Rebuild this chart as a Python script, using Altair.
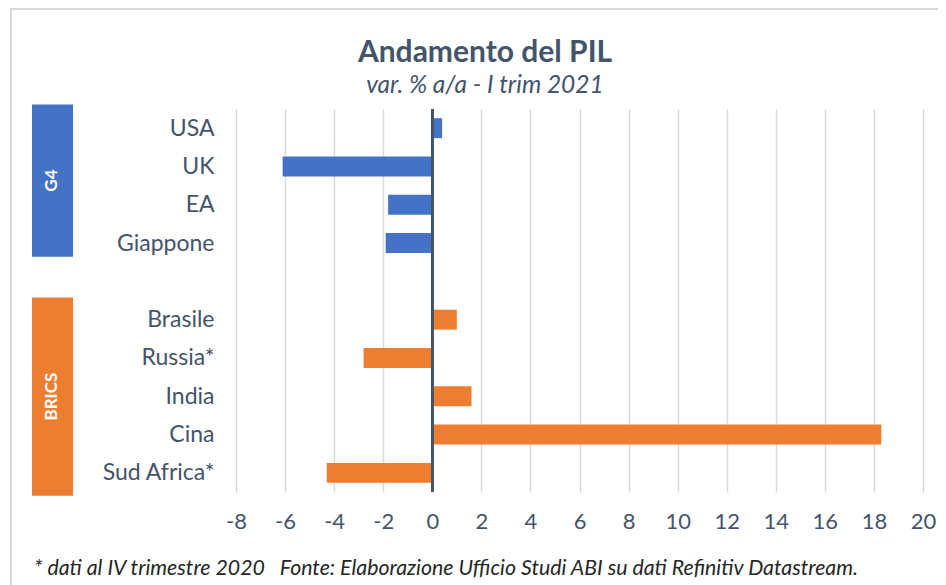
import altair as alt
import pandas as pd

# ---- data ----
countries = ["USA", "UK", "EA", "Giappone", "Brasile", "Russia*", "India", "Cina", "Sud Africa*"]
values = [0.4, -6.1, -1.8, -1.9, 1.0, -2.8, 1.6, 18.3, -4.3]
groups = ["G4", "G4", "G4", "G4", "BRICS", "BRICS", "BRICS", "BRICS", "BRICS"]
group_names = ["G4", "BRICS"]
group_colors = ["#4472C4", "#ED7D31"]
x_ticks = list(range(-8, 21, 2))

title_text = "Andamento del PIL"
subtitle_text = "var. % a/a - I trim 2021"
footnote_text = "* dati al IV trimestre 2020\u00a0\u00a0\u00a0Fonte: Elaborazione Ufficio Studi ABI su dati Refinitiv Datastream."

FONT = "Lato"
TXT = "#44546A"

# row positions: one empty slot between the groups
idx = []
pos = 0
prev = None
for g in groups:
    if prev is not None and g != prev:
        pos += 1
    idx.append(pos)
    pos += 1
    prev = g
n_slots = pos

df = pd.DataFrame({"country": countries, "value": values, "group": groups, "idx": idx})
df["y0"] = df["idx"] - 0.26
df["y1"] = df["idx"] + 0.26
df["zero"] = 0.0

label_arr = [""] * n_slots
for c, i in zip(countries, idx):
    label_arr[i] = c
label_expr = "[" + ",".join("'" + s + "'" for s in label_arr) + "][datum.value]"

top_pad = {"G4": 0.62, "BRICS": 0.58}
bottom_pad = {"G4": 0.36, "BRICS": 0.6}
gdf = pd.DataFrame({
    "group": group_names,
    "top": [df[df.group == g].idx.min() - top_pad[g] for g in group_names],
    "bottom": [df[df.group == g].idx.max() + bottom_pad[g] for g in group_names],
})
gdf["mid"] = (gdf["top"] + gdf["bottom"]) / 2

W, H = 687, 383
yscale = alt.Scale(domain=[-0.5, n_slots - 0.5], reverse=True, nice=False, zero=False)
xscale = alt.Scale(domain=[-8, 20], nice=False)
color_scale = alt.Scale(domain=group_names, range=group_colors)

base = alt.Chart(df)

bars = base.mark_rect().encode(
    x=alt.X("value:Q", scale=xscale,
            axis=alt.Axis(values=x_ticks, labelExpr="'' + datum.value", title=None,
                          grid=True, gridColor="#D9D9D9", gridWidth=1.5, domain=False,
                          ticks=False, labelFlush=False, labelPadding=19, labelFontSize=22,
                          labelColor=TXT, labelFont=FONT)),
    x2="zero:Q",
    y=alt.Y("y0:Q", scale=yscale,
            axis=alt.Axis(values=idx, labelExpr=label_expr, title=None, grid=False,
                          domain=False, ticks=False, labelFlush=False, labelPadding=22,
                          labelFontSize=23, labelColor=TXT, labelFont=FONT)),
    y2="y1:Q",
    color=alt.Color("group:N", scale=color_scale, legend=None),
)

zero_rule = base.mark_rule(color="#44546A", strokeWidth=2).encode(x=alt.datum(0))

grects = alt.Chart(gdf).mark_rect().encode(
    x=alt.value(-204), x2=alt.value(-163),
    y=alt.Y("top:Q", scale=yscale), y2="bottom:Q",
    color=alt.Color("group:N", scale=color_scale, legend=None),
)
gtext = alt.Chart(gdf).mark_text(angle=270, align="center", baseline="middle",
                                 font=FONT, fontSize=17, fontWeight="bold",
                                 color="white").encode(
    x=alt.value(-184), y=alt.Y("mid:Q", scale=yscale), text="group:N")

one = pd.DataFrame({"a": [0]})
border = alt.Chart(one).mark_rect(fill=None, stroke="#D9D9D9", strokeWidth=2).encode(
    x=alt.value(-225), x2=alt.value(W + 40), y=alt.value(-100), y2=alt.value(H + 120))

title = alt.Chart(one).mark_text(align="center", baseline="alphabetic", font=FONT,
                                 fontSize=30, fontWeight="bold", color=TXT).encode(
    x=alt.value(249), y=alt.value(-47), text=alt.value(title_text))
subtitle = alt.Chart(one).mark_text(align="center", baseline="alphabetic", font=FONT,
                                    fontSize=24.5, fontStyle="italic", color=TXT).encode(
    x=alt.value(249), y=alt.value(-16), text=alt.value(subtitle_text))
footnote = alt.Chart(one).mark_text(align="left", baseline="alphabetic", font=FONT,
                                    fontSize=21.3, fontStyle="italic", color="#262626").encode(
    x=alt.value(-202), y=alt.value(466), text=alt.value(footnote_text))

chart = alt.layer(border, bars, zero_rule, grects, gtext, title, subtitle, footnote).properties(
    width=W, height=H,
    autosize=alt.AutoSizeParams(type="none"),
    padding={"left": 228, "top": 101, "right": 15, "bottom": 93},
).configure(background="white").configure_view(stroke=None)

chart.save("out.html", embed_options={"renderer": "svg", "actions": False})
